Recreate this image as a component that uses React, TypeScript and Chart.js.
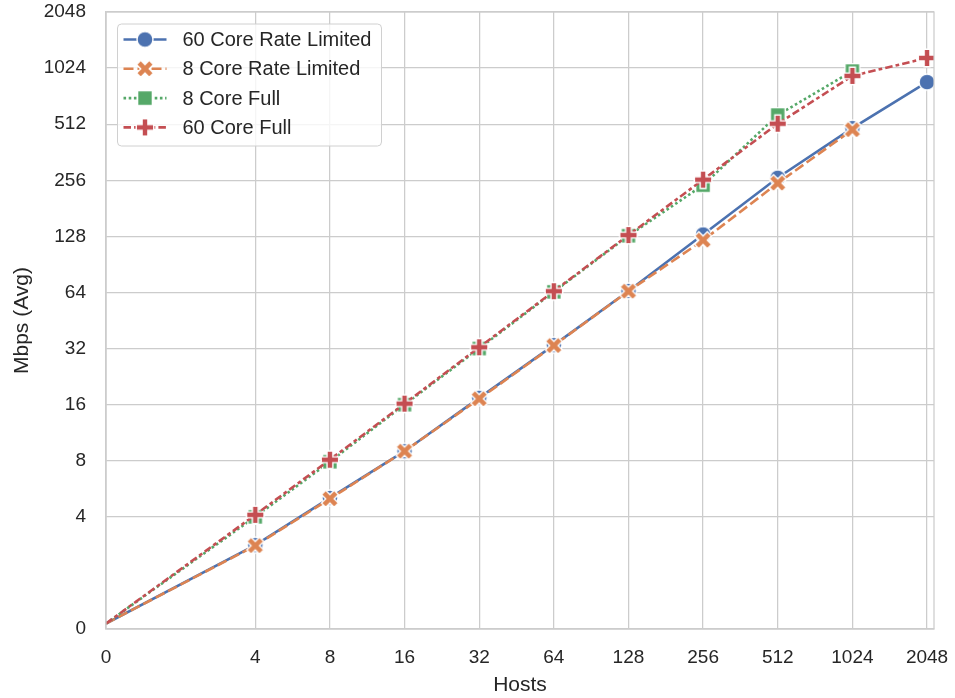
import React, { useEffect, useRef } from 'react';
import { Chart, registerables } from 'chart.js';

Chart.register(...registerables);

// ---- Data ----
const hosts = [1, 4, 8, 16, 32, 64, 128, 256, 512, 1024, 2048];
const xTickLabels = ['0', '4', '8', '16', '32', '64', '128', '256', '512', '1024', '2048'];
const yTickValues = [1, 4, 8, 16, 32, 64, 128, 256, 512, 1024, 2048];
const yTickLabels = ['0', '4', '8', '16', '32', '64', '128', '256', '512', '1024', '2048'];

const seriesNames = ['60 Core Rate Limited', '8 Core Rate Limited', '8 Core Full', '60 Core Full'];
const rateLimited60 = [1.07, 2.82, 5.05, 9.0, 17.4, 33.4, 65.2, 131, 264, 488, 861];
const rateLimited8 = [1.07, 2.8, 5.0, 9.0, 17.2, 33.2, 65.0, 122, 247, 478, null];
const full8 = [1.07, 4.0, 7.9, 16.0, 32.0, 64.5, 129, 241, 573, 987, null];
const full60 = [1.07, 4.1, 8.1, 16.2, 32.5, 65.0, 130, 258, 515, 930, 1160];

const colors = ['#4C72B0', '#DD8452', '#55A868', '#C44E52'];
const dashes: number[][] = [[], [10, 4], [2.6, 2.6], [7.5, 3.1, 3.75, 3.1]];
const markerKinds = ['circle', 'x', 'square', 'plus'];

const FONT = '"Liberation Sans", Arial, Helvetica, sans-serif';
const TEXT = '#262626';
const GRID = '#cccccc';

function makeMarker(kind: string, color: string): HTMLCanvasElement {
  const c = document.createElement('canvas');
  c.width = 22;
  c.height = 22;
  const ctx = c.getContext('2d')!;
  ctx.translate(11, 11);
  ctx.beginPath();
  if (kind === 'circle') {
    ctx.arc(0, 0, 8, 0, Math.PI * 2);
  } else if (kind === 'square') {
    ctx.rect(-7.4, -7.4, 14.8, 14.8);
  } else if (kind === 'x') {
    const u = 17 / 4;
    const pts = [[-1, -2], [0, -1], [1, -2], [2, -1], [1, 0], [2, 1], [1, 2], [0, 1], [-1, 2], [-2, 1], [-1, 0], [-2, -1]];
    pts.forEach(([px, py], i) => (i ? ctx.lineTo(px * u, py * u) : ctx.moveTo(px * u, py * u)));
    ctx.closePath();
  } else {
    const u = 17.5 / 6;
    const pts = [[-1, -3], [1, -3], [1, -1], [3, -1], [3, 1], [1, 1], [1, 3], [-1, 3], [-1, 1], [-3, 1], [-3, -1], [-1, -1]];
    pts.forEach(([px, py], i) => (i ? ctx.lineTo(px * u, py * u) : ctx.moveTo(px * u, py * u)));
    ctx.closePath();
  }
  ctx.fillStyle = color;
  ctx.fill();
  ctx.strokeStyle = '#ffffff';
  ctx.lineWidth = 1.4;
  ctx.lineJoin = 'miter';
  ctx.stroke();
  return c;
}

const buildPoints = (vals: (number | null)[]) =>
  hosts
    .map((h, i) => (vals[i] == null ? null : { x: h, y: vals[i] as number }))
    .filter((p) => p !== null) as { x: number; y: number }[];

const zeroPad = (s: any) => {
  s.paddingLeft = 0;
  s.paddingRight = 0;
  s.paddingTop = 0;
  s.paddingBottom = 0;
};

export default function App() {
  const ref = useRef<HTMLCanvasElement | null>(null);

  useEffect(() => {
    document.body.style.margin = '0';
    const canvas = ref.current;
    if (!canvas) return;

    const allSeries = [rateLimited60, rateLimited8, full8, full60];
    const markers = markerKinds.map((k, i) => makeMarker(k, colors[i]));

    const datasets = allSeries.map((vals, i) => {
      const pts = buildPoints(vals);
      return {
        label: seriesNames[i],
        data: pts,
        borderColor: colors[i],
        backgroundColor: colors[i],
        borderWidth: 2.6,
        borderDash: dashes[i],
        borderCapStyle: 'butt' as const,
        tension: 0,
        pointStyle: markers[i],
        pointRadius: pts.map((_, j) => (j === 0 ? 0 : 8)),
        order: 4 - i,
      };
    });

    const borderPlugin = {
      id: 'frame',
      afterDatasetsDraw(chart: any) {
        const { ctx, chartArea: a } = chart;
        ctx.save();
        ctx.strokeStyle = GRID;
        ctx.lineWidth = 1.25;
        ctx.strokeRect(a.left, a.top, a.right - a.left, a.bottom - a.top);
        ctx.restore();
      },
    };

    const legendPlugin = {
      id: 'insideLegend',
      afterDraw(chart: any) {
        const { ctx, chartArea: a } = chart;
        const bx = a.left + 11.5;
        const by = a.top + 12;
        const bw = 264;
        const bh = 122;
        ctx.save();
        ctx.beginPath();
        ctx.roundRect(bx, by, bw, bh, 4);
        ctx.fillStyle = 'rgba(255,255,255,0.8)';
        ctx.fill();
        ctx.strokeStyle = '#d0d0d0';
        ctx.lineWidth = 1;
        ctx.stroke();
        chart.data.datasets.forEach((ds: any, i: number) => {
          const y = by + 15.5 + i * 29.3;
          const x0 = bx + 6;
          const x1 = bx + 49;
          ctx.beginPath();
          ctx.setLineDash(dashes[i]);
          ctx.lineCap = 'butt';
          ctx.strokeStyle = colors[i];
          ctx.lineWidth = 2.6;
          ctx.moveTo(x0, y);
          ctx.lineTo(x1, y);
          ctx.stroke();
          ctx.setLineDash([]);
          const m = markers[i];
          ctx.drawImage(m, (x0 + x1) / 2 - m.width / 2, y - m.height / 2);
          ctx.fillStyle = TEXT;
          ctx.font = `20px ${FONT}`;
          ctx.textBaseline = 'middle';
          ctx.textAlign = 'left';
          ctx.fillText(ds.label, bx + 65, y + 1);
        });
        ctx.restore();
      },
    };

    const chart = new Chart(canvas, {
      type: 'line',
      data: { datasets },
      plugins: [borderPlugin, legendPlugin],
      options: {
        animation: false,
        responsive: false,
        maintainAspectRatio: false,
        layout: { padding: { top: 12, right: 21, bottom: 0, left: 0 } },
        plugins: { legend: { display: false }, tooltip: { enabled: false } },
        scales: {
          x: {
            type: 'logarithmic',
            min: 1,
            max: 2185,
            afterBuildTicks: (s: any) => {
              s.ticks = hosts.map((v) => ({ value: v }));
            },
            afterFit: (s: any) => {
              s.height = 69;
              zeroPad(s);
            },
            ticks: {
              autoSkip: false,
              maxRotation: 0,
              minRotation: 0,
              padding: 17,
              color: TEXT,
              font: { family: FONT, size: 19, lineHeight: 1.2 },
              callback: (_v: any, i: number) => xTickLabels[i],
            },
            grid: { color: GRID, lineWidth: 1.25, drawTicks: false },
            border: { color: GRID, width: 1.25 },
            title: {
              display: true,
              text: 'Hosts',
              color: TEXT,
              font: { family: FONT, size: 21, lineHeight: 1.2 },
              padding: { top: 0, bottom: 0 },
            },
          },
          y: {
            type: 'logarithmic',
            min: 1,
            max: 2048,
            afterBuildTicks: (s: any) => {
              s.ticks = yTickValues.map((v) => ({ value: v }));
            },
            afterFit: (s: any) => {
              s.width = 106;
              zeroPad(s);
            },
            ticks: {
              autoSkip: false,
              padding: 20,
              color: TEXT,
              font: { family: FONT, size: 19, lineHeight: 1.2 },
              callback: (_v: any, i: number) => yTickLabels[i],
            },
            grid: { color: GRID, lineWidth: 1.25, drawTicks: false },
            border: { color: GRID, width: 1.25 },
            title: {
              display: true,
              text: 'Mbps (Avg)',
              color: TEXT,
              font: { family: FONT, size: 21, lineHeight: 1.2 },
              padding: { top: 10, bottom: 10 },
            },
          },
        },
      },
    } as any);

    return () => chart.destroy();
  }, []);

  return (
    <div style={{ width: 955, height: 698, background: '#ffffff' }}>
      <canvas ref={ref} width={955} height={698} style={{ display: 'block' }} />
    </div>
  );
}
